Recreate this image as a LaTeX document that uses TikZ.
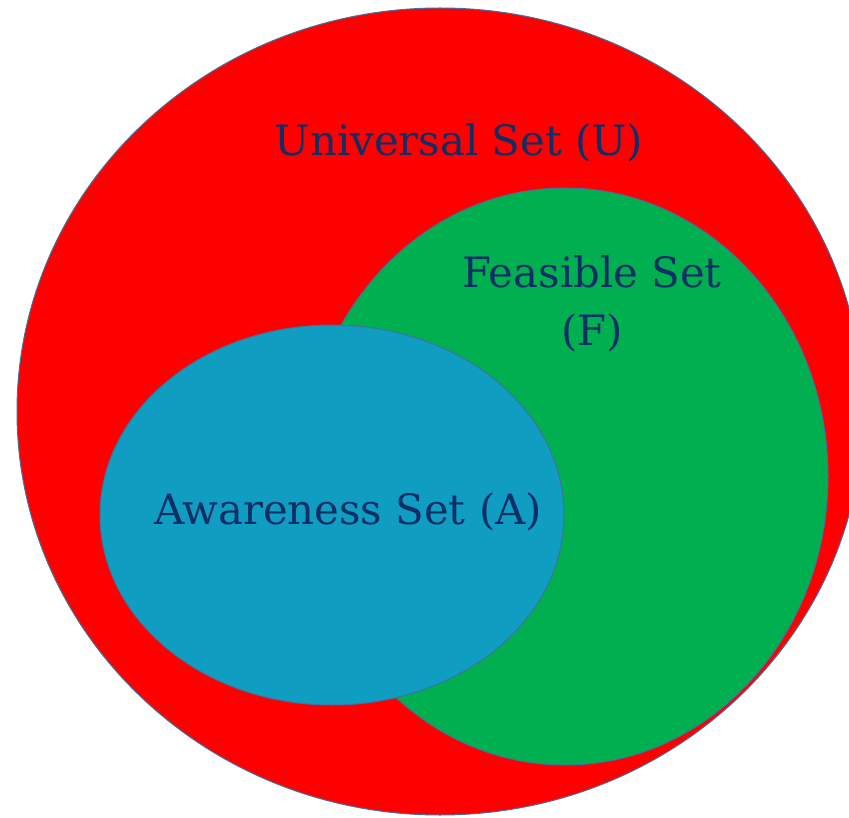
\documentclass[tikz,border=0pt]{standalone}
\usepackage{fontspec}
\setmainfont{DejaVu Serif}
\definecolor{setred}{HTML}{FF0000}
\definecolor{setgreen}{HTML}{00B050}
\definecolor{setblue}{HTML}{0F9DC2}
\definecolor{edge}{HTML}{41719C}
\definecolor{txt}{HTML}{0E2F66}
\begin{document}
\begin{tikzpicture}[x=1pt,y=-1pt,
  setshape/.style={draw=edge,line width=1pt},
  lbl/.style={text=txt,font=\fontsize{41.8}{58}\selectfont,align=center,inner sep=0pt}]
\useasboundingbox (0,0) rectangle (849,818);
\clip (0,0) rectangle (849,818);
\fill[white] (0,0) rectangle (849,818);
\path[setshape,fill=setred] (440,411.5) ellipse [x radius=423, y radius=403.5];
\path[setshape,fill=setgreen] (565,476.5) ellipse [x radius=263, y radius=288.5];
\path[setshape,fill=setblue] (332,515) ellipse [x radius=232, y radius=190];
\node[lbl] (u) at (459,143) {Universal Set (U)};
\node[lbl] (f) at (592,304) {Feasible Set\\(F)};
\node[lbl] (a) at (348,512) {Awareness Set (A)};
\end{tikzpicture}
\end{document}
